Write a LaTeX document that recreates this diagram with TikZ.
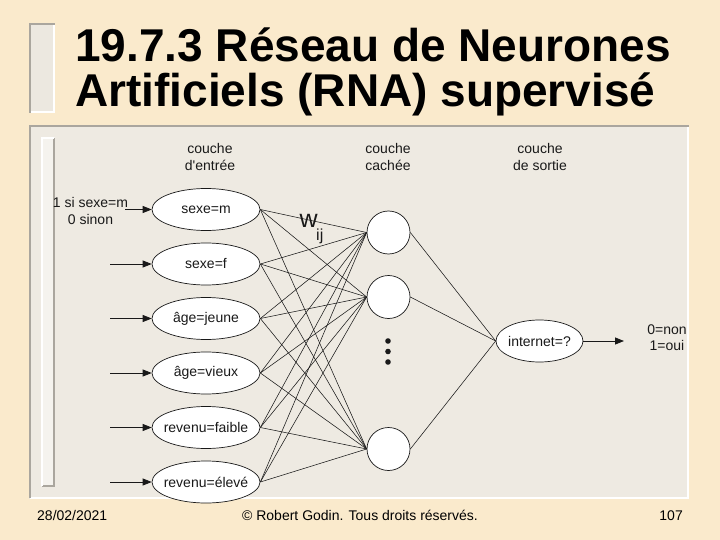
\documentclass[tikz,border=0pt]{standalone}
\usepackage{fontspec}
\setmainfont{Liberation Sans}[Ligatures=TeXOff]
\usetikzlibrary{shapes.geometric,arrows.meta}
\definecolor{parch}{RGB}{250,234,204}
\definecolor{panelc}{RGB}{238,234,226}
\definecolor{barc}{RGB}{236,232,224}
\definecolor{edgegray}{RGB}{170,166,158}
\definecolor{ink}{RGB}{25,25,25}
\begin{document}
\begin{tikzpicture}[x=1pt,y=-1pt,
  lbl/.style={font=\fontsize{14}{16.5}\selectfont, text=ink, align=center, inner sep=0},
  inbox/.style={ellipse, draw=ink, fill=white, line width=0.7pt, minimum width=108pt, minimum height=42pt, inner sep=0, font=\fontsize{14}{16}\selectfont, text=ink},
  outbox/.style={inbox, minimum width=87pt},
  hid/.style={circle, draw=ink, fill=white, line width=0.7pt, minimum size=43pt, inner sep=0},
  wire/.style={draw=ink, line width=0.55pt},
  feed/.style={draw=ink, line width=0.8pt, -{Triangle[length=9pt,width=7pt]}},
  titlef/.style={font=\fontsize{46}{50}\selectfont\bfseries, text=black, inner sep=0},
  footf/.style={font=\fontsize{14}{16}\selectfont, text=black, inner sep=0}
]
\useasboundingbox (0,0) rectangle (720,540);
\fill[parch] (0,0) rectangle (720,540);
% title bar
\fill[barc] (29,23) rectangle (55,113);
\draw[white, line width=2pt] (29,112) -- (54,112) -- (54,23);
\draw[edgegray, line width=2pt] (30,113) -- (30,24) -- (55,24);
% panel
\fill[panelc] (29,125) rectangle (689,499);
\draw[white, line width=2pt] (30,498) -- (688,498) -- (688,126);
\draw[edgegray, line width=2pt] (30,498) -- (30,126) -- (689,126);
% inner bar
\fill[panelc!60!white] (41,137) rectangle (55,487);
\draw[edgegray, line width=1.6pt] (42,486) -- (54,486) -- (54,138);
\draw[white, line width=1.6pt] (42,486) -- (42,138) -- (54,138);
% title
\node[titlef, anchor=base west] (t1) at (75,62) {19.7.3 Réseau de Neurones};
\node[titlef, anchor=base west] (t2) at (75,107) {Artificiels (RNA) supervisé};
% layer captions
\node[lbl] (c1) at (210,157) {couche\\d'entrée};
\node[lbl] (c2) at (388,157) {couche\\cachée};
\node[lbl] (c3) at (540,157) {couche\\de sortie};
% inputs
\node[inbox] (in1) at (206,209.5) {\makebox[0pt]{sexe=m}};
\node[inbox] (in2) at (206,264) {\makebox[0pt]{sexe=f}};
\node[inbox] (in3) at (206,318.5) {\makebox[0pt]{âge=jeune}};
\node[inbox] (in4) at (206,373) {\makebox[0pt]{âge=vieux}};
\node[inbox] (in5) at (206,427.5) {\makebox[0pt]{revenu=faible}};
\node[inbox] (in6) at (206,482) {\makebox[0pt]{revenu=élevé}};
% hidden
\node[hid] (h1) at (388.5,232.5) {};
\node[hid] (h2) at (388.5,297) {};
\node[hid] (h3) at (388.5,449) {};
\foreach \yy/\nm in {341/d1,351.5/d2,362/d3}
  \node[circle, fill=ink, minimum size=5.6pt, inner sep=0] (\nm) at (388,\yy) {};
% output
\node[outbox] (out) at (539.5,341) {\makebox[0pt]{internet=?}};
% connections
\foreach \i in {1,...,6}
  \foreach \j in {1,2,3}
    \draw[wire] (in\i.east) -- (h\j.west);
\foreach \j in {1,2,3}
  \draw[wire] (h\j.east) -- (out.west);
% input arrows
\coordinate (s1) at (125,209.5);
\coordinate (s2) at (110,264);
\coordinate (s3) at (110,318.5);
\coordinate (s4) at (110,373);
\coordinate (s5) at (110,427.5);
\coordinate (s6) at (110,482);
\foreach \i in {1,...,6}
  \draw[feed] (s\i) -- (in\i.west);
\node[lbl] (note) at (90.5,211) {1 si sexe=m\\0 sinon};
% output arrow
\coordinate (oe) at (624,341);
\draw[feed] (out.east) -- (oe);
\node[lbl] (res) at (667,337.5) {0=non\\1=oui};
% weight label
\node[font=\fontsize{25}{25}\selectfont, text=ink, inner sep=0, anchor=base west] (w) at (299.5,227) {w};
\node[font=\fontsize{16}{16}\selectfont, text=ink, inner sep=0, anchor=base west] (ij) at (316,240.5) {ij};
% footer
\node[footf, anchor=base west] (date) at (37,520) {28/02/2021};
\node[footf, anchor=base] (copy) at (360,520) {© Robert Godin. Tous droits réservés.};
\node[footf, anchor=base east] (page) at (683,520) {107};
\end{tikzpicture}
\end{document}
